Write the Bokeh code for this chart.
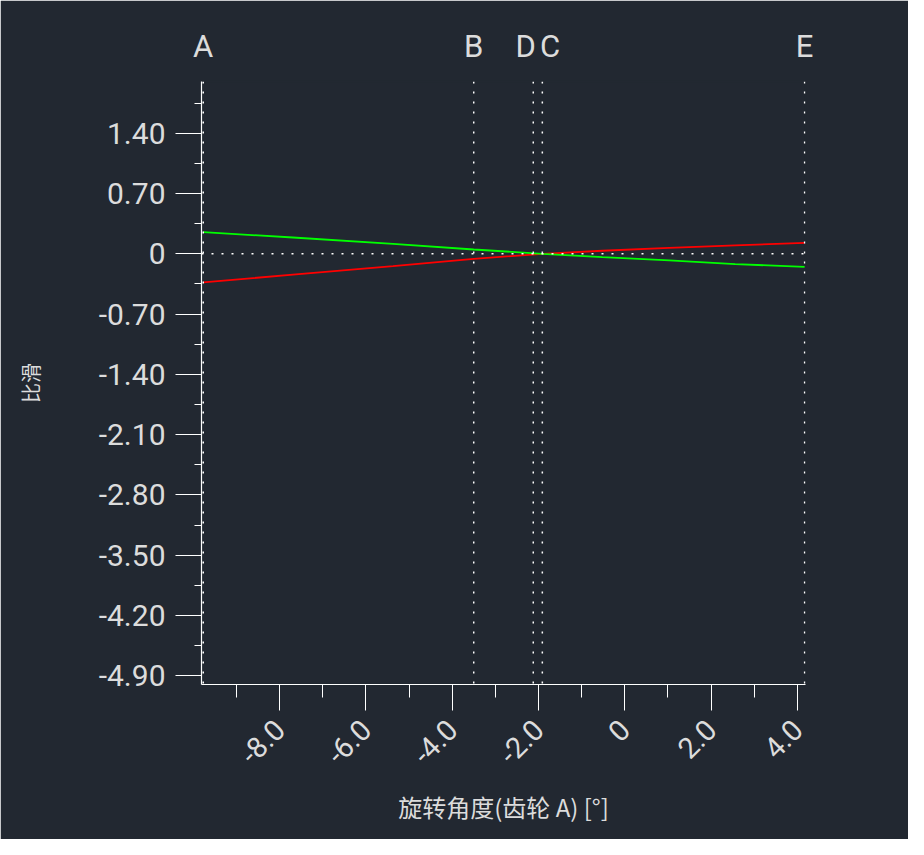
from bokeh.plotting import figure
from bokeh.models import FixedTicker, Span, Range1d, LinearAxis
from bokeh.embed import file_html
from bokeh.resources import INLINE

# values
angle = [-9.77, -7.69, -5.37, -3.50, -1.91, -0.52, 1.03, 2.56, 4.17]
slip_red = [-0.332, -0.242, -0.143, -0.058, 0.0, 0.035, 0.069, 0.097, 0.127]
slip_green = [0.251, 0.189, 0.116, 0.050, 0.0, -0.039, -0.077, -0.120, -0.151]

marker_names = ["A", "B", "D", "C", "E"]
marker_x = [-9.77, -3.50, -2.12, -1.91, 4.17]

x_ticks = [-8, -6, -4, -2, 0, 2, 4]
x_minor = [-9, -7, -5, -3, -1, 1, 3]
x_labels = ["-8.0", "-6.0", "-4.0", "-2.0", "0", "2.0", "4.0"]

y_ticks = [1.40, 0.70, 0.0, -0.70, -1.40, -2.10, -2.80, -3.50, -4.20, -4.90]
y_minor = [1.75, 1.05, 0.35, -0.35, -1.05, -1.75, -2.45, -3.15, -3.85, -4.55]
y_labels = ["1.40", "0.70", "0", "-0.70", "-1.40", "-2.10", "-2.80", "-3.50", "-4.20", "-4.90"]

BG = "#222831"
FG = "#dcdcdc"
FONT = "Roboto"
CJK = "Noto Sans CJK SC"
NB = "\u00a0\u00a0"

p = figure(width=908, height=839, output_backend="svg", toolbar_location=None,
           x_range=Range1d(-9.81, 4.19), y_range=Range1d(-5.0, 2.0),
           min_border_left=201, min_border_top=81, min_border_right=103, min_border_bottom=155)
p.background_fill_color = BG
p.border_fill_color = BG
# outline in the background colour hides the seam between frame and border
p.outline_line_color = BG
p.outline_line_width = 1.5
p.grid.visible = False

# x axis
xa = p.xaxis[0]
xa.ticker = FixedTicker(ticks=x_ticks, minor_ticks=x_minor)
xa.major_label_overrides = dict(zip(x_ticks, x_labels))
xa.major_label_orientation = 0.785
xa.major_label_text_font_size = "29px"
xa.axis_label = "旋转角度(齿轮 A) [°]"
xa.axis_label_text_font_size = "24px"
xa.axis_label_standoff = 13
xa.minor_tick_out = 13
xa.major_label_standoff = 14

# y axis
ya = p.yaxis[0]
ya.ticker = FixedTicker(ticks=y_ticks, minor_ticks=y_minor)
ya.major_label_overrides = dict(zip(y_ticks, y_labels))
ya.major_label_text_font_size = "30px"
ya.axis_label = "比滑"
ya.axis_label_text_font_size = "20px"
ya.axis_label_standoff = 51
ya.minor_tick_out = 7
ya.major_label_standoff = 10

for ax in (xa, ya):
    ax.axis_line_color = "#ffffff"
    ax.axis_line_width = 1.2
    ax.major_tick_line_color = "#ffffff"
    ax.minor_tick_line_color = "#ffffff"
    ax.major_tick_out = 26
    ax.major_tick_in = 0
    ax.minor_tick_in = 0
    ax.major_label_text_font = FONT
    ax.major_label_text_color = FG
    ax.axis_label_text_font = CJK
    ax.axis_label_text_font_style = "normal"
    ax.axis_label_text_color = FG

# point names A..E on an axis above the frame (D and C nudged apart)
top_labels = {}
for name, xm in zip(marker_names, marker_x):
    if name == "D":
        top_labels[xm] = name + NB
    elif name == "C":
        top_labels[xm] = NB + name
    else:
        top_labels[xm] = name
top = LinearAxis(ticker=FixedTicker(ticks=marker_x), major_label_overrides=top_labels,
                 axis_line_color=None, major_tick_line_color=None, minor_tick_line_color=None,
                 major_label_standoff=11, major_label_text_font=FONT,
                 major_label_text_font_size="31px", major_label_text_color=FG)
p.add_layout(top, "above")

# dotted reference lines
for xm in marker_x:
    p.add_layout(Span(location=xm, dimension="height", line_color="#ffffff",
                      line_width=1.5, line_dash="2 8"))
p.add_layout(Span(location=0, dimension="width", line_color="#ffffff",
                  line_width=1.5, line_dash="2 8"))

# curves
p.line(angle, slip_red, line_color="#ff0000", line_width=1.8)
p.line(angle, slip_green, line_color="#00ff00", line_width=1.8)

open("out.html", "w").write(file_html(p, INLINE))
